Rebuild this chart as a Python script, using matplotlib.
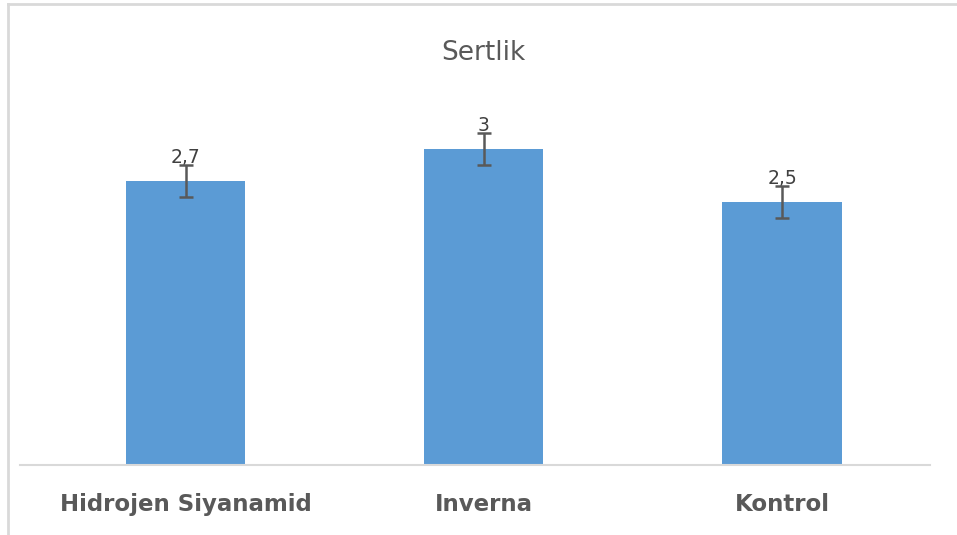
import matplotlib.pyplot as plt
from matplotlib.lines import Line2D
import numpy as np

categories = ['Hidrojen Siyanamid', 'Inverna', 'Kontrol']
values = [2.7, 3.0, 2.5]
errors = [0.15, 0.15, 0.15]
value_labels = ['2,7', '3', '2,5']

W, H = 957, 535
fig = plt.figure(figsize=(W / 100, H / 100), dpi=100)
ax = fig.add_axes([20 / W, 70 / H, 910 / W, (465 - 96.5) / H])

x = np.arange(len(categories))
ax.bar(x, values, width=0.4, color='#5B9BD5', zorder=2)
ax.errorbar(x, values, yerr=errors, fmt='none', ecolor='#595959',
            elinewidth=1.8, capsize=5, capthick=1.8, zorder=3)

for xi, v, lab in zip(x, values, value_labels):
    ax.annotate(lab, (xi, v), xytext=(0, 17), textcoords='offset points',
                ha='center', va='center', fontsize=13.5, color='#404040', zorder=1)

ax.set_xlim(-0.555, 2.496)
ax.set_ylim(0, 3.5)
ax.set_yticks([])
ax.set_xticks(x)
ax.set_xticklabels(categories, fontsize=16.5, fontweight='bold', color='#595959')
ax.tick_params(axis='x', length=0, pad=20)
for s in ['top', 'right', 'left']:
    ax.spines[s].set_visible(False)
ax.spines['bottom'].set_color('#D9D9D9')
ax.spines['bottom'].set_linewidth(1.5)

fig.text(483 / W, 1 - 53 / H, 'Sertlik', ha='center', va='center',
         fontsize=19, color='#595959')

# chart border (top and left only visible)
fig.add_artist(Line2D([8 / W, 1], [1 - 4 / H, 1 - 4 / H], color='#D9D9D9', lw=2))
fig.add_artist(Line2D([8 / W, 8 / W], [0, 1 - 4 / H], color='#D9D9D9', lw=2))

fig.savefig('out.png', dpi=100, facecolor='white')
